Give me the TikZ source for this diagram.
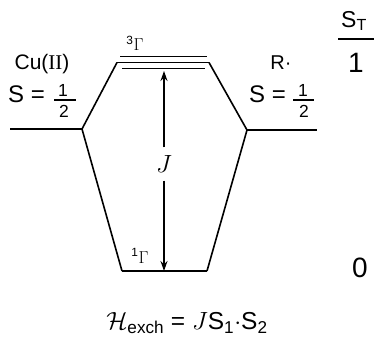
\documentclass[tikz,border=0pt]{standalone}
\usepackage{amsmath}
\usepackage{fontspec}
\setmainfont{Liberation Sans}
\newfontfamily\serfont{Liberation Serif}
\usetikzlibrary{arrows.meta}
\tikzset{
  lvl/.style={line width=1.7pt},
  conn/.style={line width=1.6pt},
  arr/.style={line width=1.5pt,-{Stealth[length=10pt,width=7pt]}},
  lbl/.style={inner sep=0pt,font=\fontsize{20}{24}\selectfont},
  fracdig/.style={inner sep=0pt,anchor=base,font=\fontsize{17.5}{18}\selectfont},
  fracbar/.style={line width=1.2pt},
}
\begin{document}
\begin{tikzpicture}[x=1pt,y=-1pt]
\useasboundingbox (0,0) rectangle (374,347);
% coordinates
\coordinate (lA) at (10,129);
\coordinate (lB) at (82,129);
\coordinate (rA) at (247,130);
\coordinate (rB) at (317,130);
\coordinate (t1a) at (120,56.5);
\coordinate (t1b) at (207,56.5);
\coordinate (t2a) at (117,62.5);
\coordinate (t2b) at (209,62.5);
\coordinate (t3a) at (122,68.5);
\coordinate (t3b) at (205,68.5);
\coordinate (b1) at (122,271);
\coordinate (b2) at (207,271);
\coordinate (arrtop) at (164,71);
\coordinate (arrbot) at (164,271);
\coordinate (stl1) at (338,39);
\coordinate (stl2) at (374,39);
\coordinate (fl1) at (54,100);
\coordinate (fl2) at (76,100);
\coordinate (fr1) at (293,100);
\coordinate (fr2) at (314,100);
% levels
\draw[lvl] (lA) -- (lB);
\draw[lvl] (rA) -- (rB);
\draw[lvl] (t1a) -- (t1b);
\draw[lvl] (t2a) -- (t2b);
\draw[lvl] (t3a) -- (t3b);
\draw[lvl] (b1) -- (b2);
\draw[lvl] (stl1) -- (stl2);
% correlation lines
\draw[conn] (lB) -- (t2a);
\draw[conn] (lB) -- (b1);
\draw[conn] (rA) -- (t2b);
\draw[conn] (rA) -- (b2);
% J arrow
\node[inner sep=0pt,minimum height=33pt,font=\fontsize{27}{30}\selectfont] (J) at (164,164) {$J$};
\draw[arr] (J.north) -- (arrtop);
\draw[arr] (J.south) -- (arrbot);
% labels
\node[lbl,font=\fontsize{17}{20}\selectfont] (trip) at (135,43) {$^{\text{3}}\Gamma$};
\node[lbl,font=\fontsize{17}{20}\selectfont] (sing) at (140,256) {$^{\text{1}}\Gamma$};
\node[lbl,font=\fontsize{21}{24}\selectfont] (cu) at (42,64) {Cu({\serfont II})};
\node[lbl,font=\fontsize{20}{22}\selectfont] (r) at (281,63) {R·};
% S = 1/2 (left)
\node[lbl,anchor=base west,font=\fontsize{24}{28}\selectfont] (sl) at (8,102.5) {S =};
\node[fracdig] (sl1) at (63,96.5) {1};
\node[fracdig] (sl2) at (64,117.5) {2};
\draw[fracbar] (fl1) -- (fl2);
% S = 1/2 (right)
\node[lbl,anchor=base west,font=\fontsize{24}{28}\selectfont] (sr) at (249,103) {S =};
\node[fracdig] (sr1) at (303,96.5) {1};
\node[fracdig] (sr2) at (304,117.5) {2};
\draw[fracbar] (fr1) -- (fr2);
% S_T column
\node[lbl,font=\fontsize{23}{26}\selectfont] (st) at (354,21) {S\textsubscript{T}};
\node[lbl,font=\fontsize{28}{30}\selectfont] (one) at (356,63) {1};
\node[lbl,font=\fontsize{28}{30}\selectfont] (zero) at (360,268) {0};
\node[lbl,font=\fontsize{24.5}{28}\selectfont] (ham) at (187,323) {$\mathcal{H}_{\text{exch}}$ = $J$S\textsubscript{1}$\cdot$S\textsubscript{2}};
\end{tikzpicture}
\end{document}
